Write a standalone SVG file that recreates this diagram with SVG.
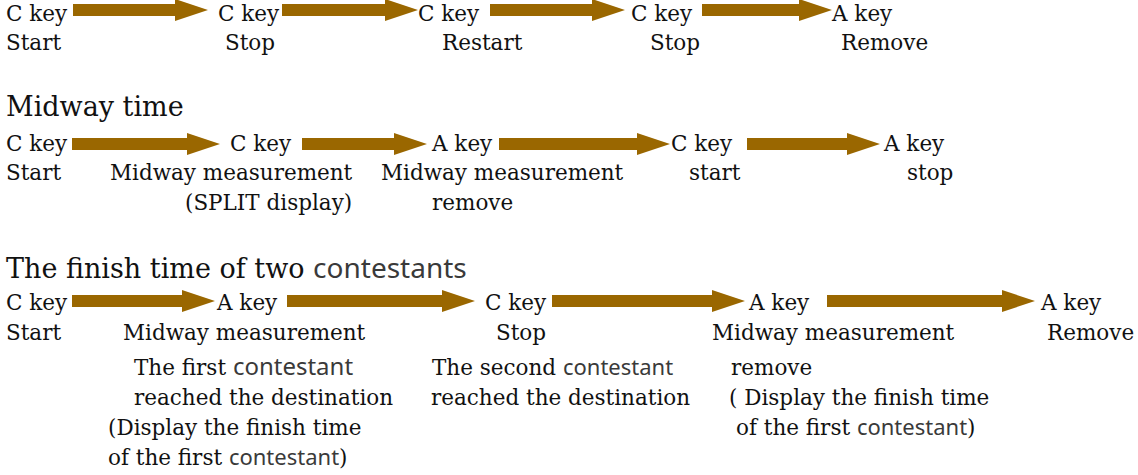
<svg xmlns="http://www.w3.org/2000/svg" width="1138" height="475" viewBox="0 0 1138 475">
<style>
text{font-family:"DejaVu Serif","Liberation Serif",serif;font-size:21.5px;fill:#111}
.h{font-size:27px}
.c{font-family:"Noto Sans","Liberation Sans",sans-serif;fill:#3a3a3a;font-size:22px}
.b{font-size:24px}
.hc{font-family:"Noto Sans","Liberation Sans",sans-serif;fill:#3a3a3a;font-size:28px}
.a{fill:#9a6700}
</style>
<g id="connectors" class="a">
<path d="M73,4H175V-1L208,10L175,21V16H73Z"/>
<path d="M282,4H385V-1L418,10L385,21V16H282Z"/>
<path d="M490,4H592V-1L625,10L592,21V16H490Z"/>
<path d="M702,4H799V-1L832,10L799,21V16H702Z"/>
<path d="M72,138H187V133L220,144L187,155V150H72Z"/>
<path d="M302,138H394V133L427,144L394,155V150H302Z"/>
<path d="M499,138H637V133L670,144L637,155V150H499Z"/>
<path d="M747,138H847V133L880,144L847,155V150H747Z"/>
<path d="M72,295H182V290L215,301L182,312V307H72Z"/>
<path d="M287,295H442V290L475,301L442,312V307H287Z"/>
<path d="M552,295H712V290L745,301L712,312V307H552Z"/>
<path d="M827,295H1002V290L1035,301L1002,312V307H827Z"/>
</g>
<g id="row1">
<g id="r1n1"><text x="6" y="21">C key</text><text x="6" y="50">Start</text></g>
<g id="r1n2"><text x="218" y="21">C key</text><text x="225" y="50">Stop</text></g>
<g id="r1n3"><text x="418" y="21">C key</text><text x="442" y="50">Restart</text></g>
<g id="r1n4"><text x="631" y="21">C key</text><text x="650" y="50">Stop</text></g>
<g id="r1n5"><text x="832" y="21">A key</text><text x="841" y="50">Remove</text></g>
</g>
<g id="row2">
<text class="h" x="6" y="116">Midway time</text>
<g id="r2n1"><text x="6" y="151">C key</text><text x="6" y="180">Start</text></g>
<g id="r2n2"><text x="230" y="151">C key</text><text x="110" y="180">Midway measurement</text><text x="185" y="210">(SPLIT display)</text></g>
<g id="r2n3"><text x="432" y="151">A key</text><text x="381" y="180">Midway measurement</text><text x="432" y="210">remove</text></g>
<g id="r2n4"><text x="671" y="151">C key</text><text x="689" y="180">start</text></g>
<g id="r2n5"><text x="884" y="151">A key</text><text x="907" y="180">stop</text></g>
</g>
<g id="row3">
<text class="h" x="6" y="278">The finish time of two <tspan class="hc">contestants</tspan></text>
<g id="r3n1"><text x="6" y="310">C key</text><text x="6" y="340">Start</text></g>
<g id="r3n2"><text x="217" y="310">A key</text><text x="123" y="340">Midway measurement</text>
<text x="134" y="375">The first <tspan class="c b">contestant</tspan></text>
<text x="134" y="405">reached the destination</text>
<text x="108" y="435">(Display the finish time</text>
<text x="108" y="465">of the first <tspan class="c">contestant</tspan>)</text></g>
<g id="r3n3"><text x="485" y="310">C key</text><text x="496" y="340">Stop</text>
<text x="432" y="375">The second <tspan class="c">contestant</tspan></text>
<text x="431" y="405">reached the destination</text></g>
<g id="r3n4"><text x="749" y="310">A key</text><text x="712" y="340">Midway measurement</text>
<text x="731" y="375">remove</text>
<text x="729" y="405">( Display the finish time</text>
<text x="736" y="435">of the first <tspan class="c">contestant</tspan>)</text></g>
<g id="r3n5"><text x="1041" y="310">A key</text><text x="1047" y="340">Remove</text></g>
</g>
</svg>
